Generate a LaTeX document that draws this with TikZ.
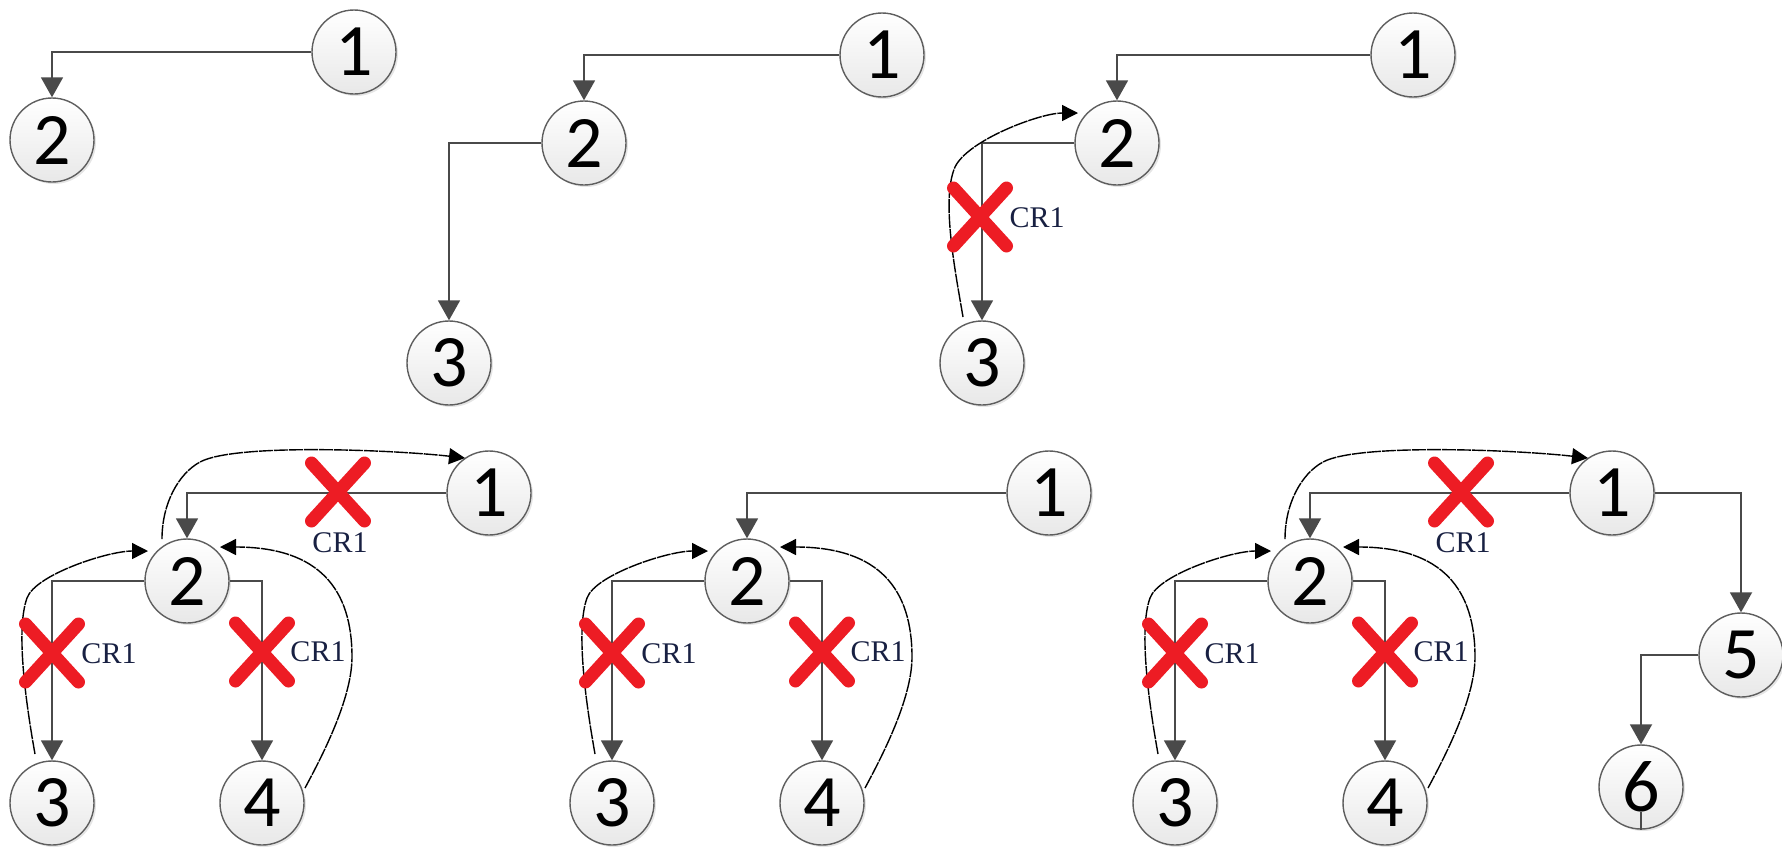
\documentclass[tikz,border=0pt]{standalone}
\usepackage{fontspec}
\newfontfamily\numfont{Carlito}
\newfontfamily\crfont{Liberation Serif}
\usetikzlibrary{arrows.meta,shapes.misc,shadows}
\definecolor{lin}{HTML}{4A4A4A}
\definecolor{xred}{HTML}{ED1C24}
\definecolor{crblue}{RGB}{24,32,66}
\definecolor{ring}{HTML}{5E5E5E}
\tikzset{
  st/.style={circle, draw=ring, line width=1.4pt, minimum size=84pt, inner sep=0pt,
    top color=white, bottom color=black!9,
    drop shadow={shadow xshift=2pt, shadow yshift=-2pt, opacity=0.25, fill=black!40},
    font=\numfont\fontsize{74}{74}\selectfont},
  conn/.style={draw=lin, line width=1.8pt, -{Triangle[width=22pt,length=20pt]}},
  plain/.style={draw=lin, line width=1.8pt},
  back/.style={draw=black, line width=1.4pt, dash pattern=on 14pt off 1pt,
    -{Triangle[width=16pt,length=16pt]}},
  redx/.style={cross out, draw=xred, line width=13pt, line cap=round,
    minimum width=40pt, minimum height=45pt, inner sep=0pt},
  crlabel/.style={text=crblue, font=\crfont\fontsize{30}{30}\selectfont, inner sep=0pt},
}
\begin{document}
\begin{tikzpicture}[x=1pt,y=-1pt]
\useasboundingbox (0,0) rectangle (1782,847);

% ---------- panel 1 ----------
\node[st] (a1) at (354,52) {1};
\node[st] (a2) at (52,140) {2};
\draw[conn] (a1.west) -| (a2.north);

% ---------- panel 2 ----------
\node[st] (b1) at (882,55) {1};
\node[st] (b2) at (584,143) {2};
\node[st] (b3) at (449,363) {3};
\draw[conn] (b1.west) -| (b2.north);
\draw[conn] (b2.west) -| (b3.north);

% ---------- panel 3 ----------
\node[st] (c1) at (1413,55) {1};
\node[st] (c2) at (1117,143) {2};
\node[st] (c3) at (982,363) {3};
\draw[conn] (c1.west) -| (c2.north);
\draw[conn] (c2.west) -| (c3.north);
\draw[back] ([shift={(-19,-46)}]c3.center) .. controls +(-8,-47) and +(-14,32) ..
  ([shift={(-27,-196)}]c3.center) .. controls +(13,-27) and +(-38,0) ..
  ([shift={(-39,-30)}]c2.center);
\node[redx] (cx1) at (980,217) {};
\node[crlabel] (cl1) at (1037,218) {CR1};

% ---------- panel 4 ----------
\node[st] (d1) at (489,493) {1};
\node[st] (d2) at (187,581) {2};
\node[st] (d3) at (52,803) {3};
\node[st] (d4) at (262,803) {4};
\draw[conn] (d1.west) -| (d2.north);
\draw[conn] (d2.west) -| (d3.north);
\draw[conn] (d2.east) -| (d4.north);
\draw[back] ([shift={(-17,-49)}]d3.center) .. controls +(-8,-45) and +(-12,33) ..
  ([shift={(-25,-205)}]d3.center) .. controls +(8.5,-23.5) and +(-40,0) ..
  ([shift={(-39,-30)}]d2.center);
\draw[back] ([shift={(43,-15)}]d4.center) .. controls +(15,-28) and +(0,43) ..
  ([shift={(90,-146)}]d4.center) .. controls +(0,-67) and +(100,0) ..
  ([shift={(33,-34)}]d2.center);
\draw[back] ([shift={(-25,-42)}]d2.center) .. controls +(0,-35) and +(-22,12) ..
  ([shift={(13,-119)}]d2.center) .. controls +(35,-19) and +(-70,-8) ..
  ([shift={(-24,-35)}]d1.center);
\node[redx] (dx1) at (338,492) {};
\node[crlabel] (dl1) at (340,543) {CR1};
\node[redx] (dx2) at (52,653) {};
\node[crlabel] (dl2) at (109,654) {CR1};
\node[redx] (dx3) at (262,652) {};
\node[crlabel] (dl3) at (318,652) {CR1};

% ---------- panel 5 ----------
\begin{scope}[xshift=560pt]
\node[st] (e1) at (489,493) {1};
\node[st] (e2) at (187,581) {2};
\node[st] (e3) at (52,803) {3};
\node[st] (e4) at (262,803) {4};
\draw[conn] (e1.west) -| (e2.north);
\draw[conn] (e2.west) -| (e3.north);
\draw[conn] (e2.east) -| (e4.north);
\draw[back] ([shift={(-17,-49)}]e3.center) .. controls +(-8,-45) and +(-12,33) ..
  ([shift={(-25,-205)}]e3.center) .. controls +(8.5,-23.5) and +(-40,0) ..
  ([shift={(-39,-30)}]e2.center);
\draw[back] ([shift={(43,-15)}]e4.center) .. controls +(15,-28) and +(0,43) ..
  ([shift={(90,-146)}]e4.center) .. controls +(0,-67) and +(100,0) ..
  ([shift={(33,-34)}]e2.center);
\node[redx] (ex2) at (52,653) {};
\node[crlabel] (el2) at (109,654) {CR1};
\node[redx] (ex3) at (262,652) {};
\node[crlabel] (el3) at (318,652) {CR1};
\end{scope}

% ---------- panel 6 ----------
\begin{scope}[xshift=1123pt]
\node[st] (f1) at (489,493) {1};
\node[st] (f2) at (187,581) {2};
\node[st] (f3) at (52,803) {3};
\node[st] (f4) at (262,803) {4};
\node[st] (f5) at (618,655) {5};
\node[st] (f6) at (518,787) {6};
\draw[conn] (f1.west) -| (f2.north);
\draw[conn] (f2.west) -| (f3.north);
\draw[conn] (f2.east) -| (f4.north);
\draw[conn] (f1.east) -| (f5.north);
\draw[conn] (f5.west) -| (f6.north);
\draw[plain] (f6.south) -- ++(0,-18);
\draw[back] ([shift={(-17,-49)}]f3.center) .. controls +(-8,-45) and +(-12,33) ..
  ([shift={(-25,-205)}]f3.center) .. controls +(8.5,-23.5) and +(-40,0) ..
  ([shift={(-39,-30)}]f2.center);
\draw[back] ([shift={(43,-15)}]f4.center) .. controls +(15,-28) and +(0,43) ..
  ([shift={(90,-146)}]f4.center) .. controls +(0,-67) and +(100,0) ..
  ([shift={(33,-34)}]f2.center);
\draw[back] ([shift={(-25,-42)}]f2.center) .. controls +(0,-35) and +(-22,12) ..
  ([shift={(13,-119)}]f2.center) .. controls +(35,-19) and +(-70,-8) ..
  ([shift={(-24,-35)}]f1.center);
\node[redx] (fx1) at (338,492) {};
\node[crlabel] (fl1) at (340,543) {CR1};
\node[redx] (fx2) at (52,653) {};
\node[crlabel] (fl2) at (109,654) {CR1};
\node[redx] (fx3) at (262,652) {};
\node[crlabel] (fl3) at (318,652) {CR1};
\end{scope}
\end{tikzpicture}
\end{document}
